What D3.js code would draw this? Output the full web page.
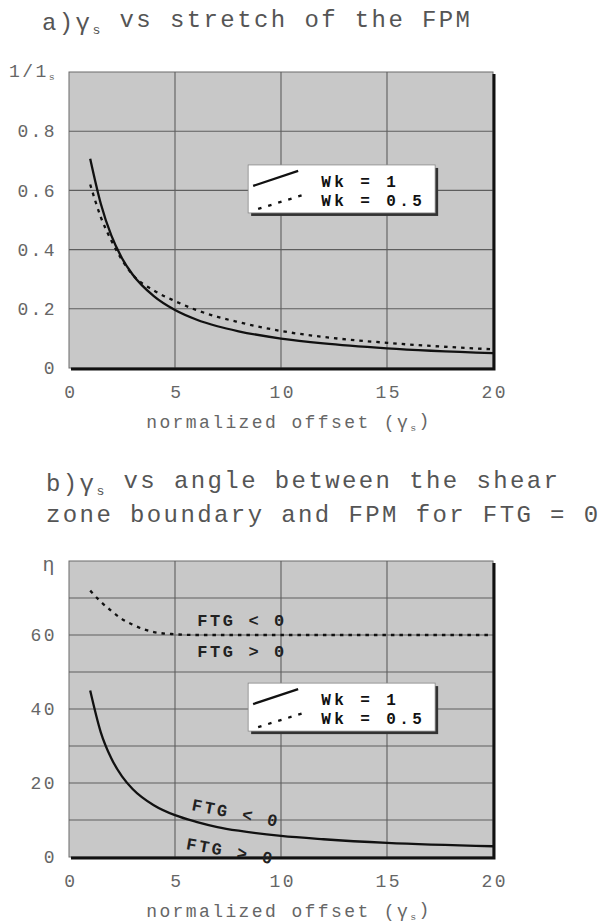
<!DOCTYPE html>
<html>
<head>
<meta charset="utf-8">
<script src="https://cdn.jsdelivr.net/npm/d3@7"></script>
<style>
  body { margin: 0; background: #fff; }
  text { font-family: "Liberation Mono", "DejaVu Sans Mono", monospace; }
</style>
</head>
<body>
<div id="chart"></div>
<script>
// values
const xTicks = [0, 5, 10, 15, 20];
const xGrid = [5, 10, 15];

const gammaA = [1, 1.5, 2, 2.5, 3, 4, 5, 6, 7, 8, 10, 12, 15, 20];
const stretchWk1 = [0.707, 0.555, 0.447, 0.371, 0.316, 0.243, 0.196, 0.164, 0.141, 0.124, 0.0995, 0.083, 0.0665, 0.05];
const stretchWk05 = [0.62, 0.51, 0.43, 0.365, 0.315, 0.262, 0.226, 0.196, 0.173, 0.155, 0.125, 0.105, 0.085, 0.063];
const yTicksA = [0, 0.2, 0.4, 0.6, 0.8];

const gammaB = [1, 1.5, 2, 2.5, 3, 4, 5, 6, 7, 8, 10, 12, 15, 20];
const angleWk1 = [45, 33.7, 26.6, 21.8, 18.4, 14, 11.3, 9.5, 8.1, 7.1, 5.7, 4.8, 3.8, 2.9];
const gammaB05 = [1, 1.5, 2, 2.5, 3, 3.5, 4, 5, 6, 8, 10, 12, 15, 20];
const angleWk05 = [72, 69, 66.5, 64.3, 62.8, 61.6, 60.8, 60.2, 60, 60, 60, 60, 60, 60];
const yTicksB = [0, 20, 40, 60];
const yGridB = [10, 20, 30, 40, 50, 60, 70];

const legendLabels = ["Wk = 1", "Wk = 0.5"];

const W = 613, H = 922;
const svg = d3.select("#chart").append("svg")
    .attr("width", W).attr("height", H);

const left = 69, right = 493;

function subText(sel, main, sub, after) {
    sel.append("tspan").text(main);
    sel.append("tspan").attr("font-size", "0.55em").attr("dy", "0.3em").text(sub);
    if (after) sel.append("tspan").attr("dy", "-0.3em").text(after);
}

function buildPanel(cfg) {
    const x = d3.scaleLinear().domain([0, 20]).range([left, right]);
    const y = d3.scaleLinear().domain(cfg.yDomain).range([cfg.bottom, cfg.top]);
    const g = svg.append("g");

    g.append("rect")
        .attr("x", left).attr("y", cfg.top)
        .attr("width", right - left).attr("height", cfg.bottom - cfg.top)
        .attr("fill", "#c8c8c8").attr("stroke", "#6a6a6a").attr("stroke-width", 1);

    g.append("g").selectAll("line").data(xGrid).enter().append("line")
        .attr("x1", d => x(d)).attr("x2", d => x(d))
        .attr("y1", cfg.top).attr("y2", cfg.bottom)
        .attr("stroke", "#5e5e5e").attr("stroke-width", 1.1);
    g.append("g").selectAll("line").data(cfg.yGrid).enter().append("line")
        .attr("x1", left).attr("x2", right)
        .attr("y1", d => y(d)).attr("y2", d => y(d))
        .attr("stroke", "#5e5e5e").attr("stroke-width", 1.1);

    // heavy bottom / right edge
    g.append("path")
        .attr("d", `M${left + 2},${cfg.bottom + 1}H${right + 1}V${cfg.top + 2}`)
        .attr("fill", "none").attr("stroke", "#111").attr("stroke-width", 3);

    const line = d3.line().x(d => x(d[0])).y(d => y(d[1])).curve(d3.curveMonotoneX);

    cfg.series.forEach(s => {
        g.append("path")
            .datum(d3.zip(s.xs, s.ys))
            .attr("d", line)
            .attr("fill", "none")
            .attr("stroke", "#111")
            .attr("stroke-width", 2.3)
            .attr("stroke-dasharray", s.dash ? "3.5,5" : null);
    });

    const yAxis = g.append("g")
        .attr("transform", `translate(${left},0)`)
        .call(d3.axisLeft(y).tickValues(cfg.yTicks).tickSize(0).tickPadding(12).tickFormat(cfg.fmt));
    const xAxis = g.append("g")
        .attr("transform", `translate(0,${cfg.bottom})`)
        .call(d3.axisBottom(x).tickValues(xTicks).tickSize(0).tickPadding(17));
    [yAxis, xAxis].forEach(a => {
        a.select(".domain").remove();
        a.selectAll("text")
            .attr("font-family", "Liberation Mono")
            .attr("font-size", 18)
            .attr("letter-spacing", 2.4)
            .attr("fill", "#666");
    });
    xAxis.selectAll("text").attr("dx", "0.07em");

    // y axis name at top
    const yl = g.append("text")
        .attr("x", left - 12).attr("y", y(cfg.yDomain[1]) + 5)
        .attr("text-anchor", "end")
        .attr("font-size", 18).attr("letter-spacing", 2.4).attr("fill", "#666");
    if (cfg.ySub) subText(yl, cfg.yName, cfg.ySub);
    else yl.attr("y", y(cfg.yDomain[1]) + 10).attr("font-size", 20).text(cfg.yName);

    // x axis title
    const xt = g.append("text")
        .attr("x", (left + right) / 2 + 8).attr("y", cfg.bottom + 60)
        .attr("text-anchor", "middle")
        .attr("font-size", 18).attr("letter-spacing", 2.4).attr("fill", "#666");
    subText(xt, "normalized offset (γ", "s", ")");

    // legend
    const lg = g.append("g")
        .attr("transform", `translate(${x(8.45)},${y(cfg.legendTop)})`);
    lg.append("rect").attr("x", 3).attr("y", 3).attr("width", 187).attr("height", 48).attr("fill", "#333");
    lg.append("rect").attr("width", 187).attr("height", 48)
        .attr("fill", "#fff").attr("stroke", "#888").attr("stroke-width", 0.8);
    lg.append("line").attr("x1", 5).attr("y1", 21).attr("x2", 50).attr("y2", 6)
        .attr("stroke", "#111").attr("stroke-width", 2.3);
    lg.append("line").attr("x1", 10).attr("y1", 44).attr("x2", 55).attr("y2", 30)
        .attr("stroke", "#111").attr("stroke-width", 2.3).attr("stroke-dasharray", "3.5,7");
    lg.selectAll("text.lab").data(legendLabels).enter().append("text")
        .attr("class", "lab")
        .attr("x", 73).attr("y", (d, i) => 22 + i * 19)
        .attr("font-size", 16).attr("font-weight", "bold").attr("letter-spacing", 3.4)
        .attr("fill", "#111")
        .attr("xml:space", "preserve")
        .text(d => d);

    return {g, x, y};
}

// titles
const ta = svg.append("text").attr("x", 42).attr("y", 30)
    .attr("font-size", 24).attr("letter-spacing", 2.4).attr("fill", "#555");
subText(ta, "a)γ", "s", " vs stretch of the FPM");

const tb = svg.append("text").attr("x", 46).attr("y", 491)
    .attr("font-size", 24).attr("letter-spacing", 2.4).attr("fill", "#555");
subText(tb, "b)γ", "s", " vs angle between the shear");
svg.append("text").attr("x", 46).attr("y", 522)
    .attr("font-size", 24).attr("letter-spacing", 2.4).attr("fill", "#555")
    .text("zone boundary and FPM for FTG = 0");

buildPanel({
    top: 72, bottom: 368, yDomain: [0, 1],
    yTicks: yTicksA, yGrid: [0.2, 0.4, 0.6, 0.8],
    fmt: d => d === 0 ? "0" : d3.format(".1f")(d),
    yName: "1/1", ySub: "s",
    legendTop: 0.686,
    series: [
        {xs: gammaA, ys: stretchWk1, dash: false},
        {xs: gammaA, ys: stretchWk05, dash: true}
    ]
});

const pb = buildPanel({
    top: 561, bottom: 857, yDomain: [0, 80],
    yTicks: yTicksB, yGrid: yGridB,
    fmt: d3.format("d"),
    yName: "η", ySub: null,
    legendTop: 47,
    series: [
        {xs: gammaB, ys: angleWk1, dash: false},
        {xs: gammaB05, ys: angleWk05, dash: true}
    ]
});

// FTG annotations in panel b
const ftgStyle = s => s.attr("font-size", 17).attr("font-weight", "bold")
    .attr("letter-spacing", 2.6).attr("fill", "#222").attr("xml:space", "preserve");
ftgStyle(pb.g.append("text").attr("x", pb.x(6.05)).attr("y", pb.y(60) - 9).text("FTG < 0"));
ftgStyle(pb.g.append("text").attr("x", pb.x(6.05)).attr("y", pb.y(60) + 22).text("FTG > 0"));
ftgStyle(pb.g.append("text")
    .attr("transform", `translate(${pb.x(5.75)},${pb.y(10) - 10}) rotate(11)`).text("FTG < 0"));
ftgStyle(pb.g.append("text")
    .attr("transform", `translate(${pb.x(5.5)},${pb.y(10) + 29}) rotate(10)`).text("FTG > 0"));
</script>
</body>
</html>
